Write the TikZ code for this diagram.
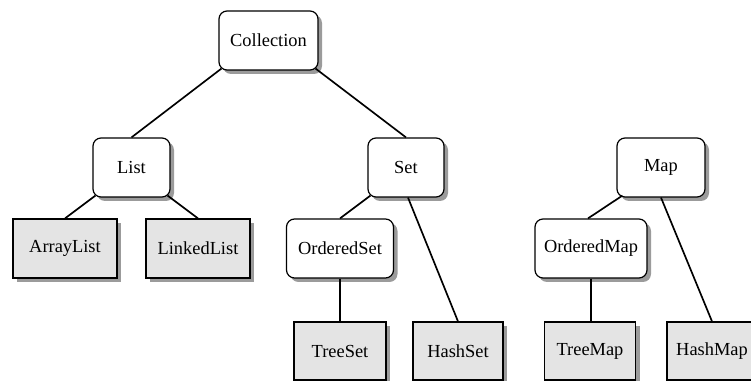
\documentclass[tikz,border=0pt]{standalone}
\usepackage{fontspec}
\setmainfont{Liberation Serif}
\usetikzlibrary{shadows}
\definecolor{shadowc}{RGB}{155,155,155}
\definecolor{boxgray}{RGB}{228,228,228}
\tikzset{
  base/.style={draw=black, line width=0.9pt, inner sep=0pt, minimum height=59*0.75pt,
    font=\fontsize{13.8}{16}\selectfont,
    drop shadow={shadow xshift=3pt, shadow yshift=-3pt, fill=shadowc, opacity=1}},
  iface/.style={base, rounded corners=6pt, fill=white},
  cls/.style={base, fill=boxgray},
  link/.style={line width=1.25pt}
}
\begin{document}
\begin{tikzpicture}[x=0.75pt,y=-0.75pt]
\useasboundingbox (0,0) rectangle (751,381);
\node[iface, minimum width=99*0.75pt] (coll) at (268.5,40.5) {Collection};
\node[iface, minimum width=77*0.75pt] (list) at (131.5,167.5) {List};
\node[iface, minimum width=76*0.75pt] (set) at (406,167.5) {Set};
\node[iface, minimum width=88*0.75pt] (map) at (661,167.5) {Map};
\node[cls, minimum width=104*0.75pt] (alist) at (65,248.5) {ArrayList};
\node[cls, minimum width=104*0.75pt] (llist) at (198,248.5) {LinkedList};
\node[iface, minimum width=107*0.75pt] (oset) at (340,248.5) {OrderedSet};
\node[iface, minimum width=112*0.75pt] (omap) at (591,248.5) {OrderedMap};
\node[cls, minimum width=92*0.75pt, minimum height=58*0.75pt] (tset) at (340,351) {TreeSet};
\node[cls, minimum width=90*0.75pt, minimum height=58*0.75pt] (hset) at (458,351) {HashSet};
\node[cls, minimum width=91*0.75pt, minimum height=58*0.75pt] (tmap) at (590,351) {TreeMap};
\node[cls, minimum width=90*0.75pt, minimum height=58*0.75pt] (hmap) at (712,351) {HashMap};
\draw[link] ([shift={(3,-2)}]coll.south west) -- (list.north);
\draw[link] ([shift={(-3,-2)}]coll.south east) -- (set.north);
\draw[link] ([shift={(3,-2)}]list.south west) -- (alist.north);
\draw[link] ([shift={(-3,-2)}]list.south east) -- (llist.north);
\draw[link] ([shift={(3,-2)}]set.south west) -- (oset.north);
\draw[link] ([shift={(2,0)}]set.south) -- (hset.north);
\draw[link] (oset.south) -- (oset.south |- tset.north);
\draw[link] ([shift={(6,-2)}]map.south west) -- ([shift={(-3,0)}]omap.north);
\draw[link] (map.south) -- (hmap.north);
\draw[link] (omap.south) -- (omap.south |- tmap.north);
\end{tikzpicture}
\end{document}
